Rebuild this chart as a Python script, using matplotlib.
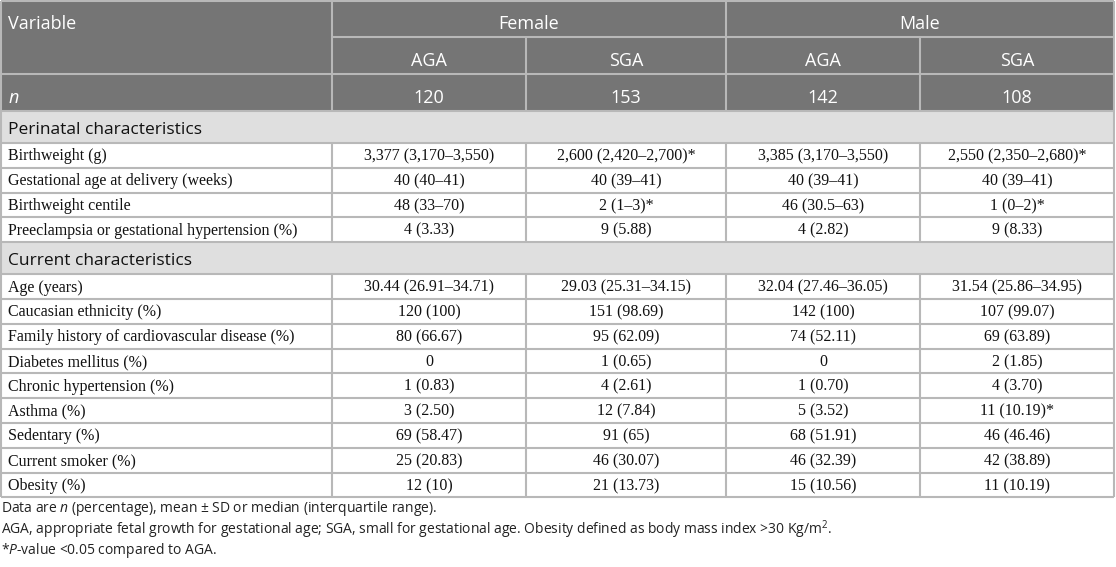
import matplotlib
matplotlib.use("Agg")
import matplotlib.pyplot as plt
from matplotlib.patches import Rectangle

# ---- data ----
sexes = ["Female", "Male"]
groups = ["AGA", "SGA"]
group_n = ["120", "153", "142", "108"]

perinatal_vars = ["Birthweight (g)", "Gestational age at delivery (weeks)",
                  "Birthweight centile", "Preeclampsia or gestational hypertension (%)"]
perinatal_female_aga = ["3,377 (3,170–3,550)", "40 (40–41)", "48 (33–70)", "4 (3.33)"]
perinatal_female_sga = ["2,600 (2,420–2,700)*", "40 (39–41)", "2 (1–3)*", "9 (5.88)"]
perinatal_male_aga = ["3,385 (3,170–3,550)", "40 (39–41)", "46 (30.5–63)", "4 (2.82)"]
perinatal_male_sga = ["2,550 (2,350–2,680)*", "40 (39–41)", "1 (0–2)*", "9 (8.33)"]

current_vars = ["Age (years)", "Caucasian ethnicity (%)",
                "Family history of cardiovascular disease (%)", "Diabetes mellitus (%)",
                "Chronic hypertension (%)", "Asthma (%)", "Sedentary (%)",
                "Current smoker (%)", "Obesity (%)"]
current_female_aga = ["30.44 (26.91–34.71)", "120 (100)", "80 (66.67)", "0", "1 (0.83)",
                      "3 (2.50)", "69 (58.47)", "25 (20.83)", "12 (10)"]
current_female_sga = ["29.03 (25.31–34.15)", "151 (98.69)", "95 (62.09)", "1 (0.65)", "4 (2.61)",
                      "12 (7.84)", "91 (65)", "46 (30.07)", "21 (13.73)"]
current_male_aga = ["32.04 (27.46–36.05)", "142 (100)", "74 (52.11)", "0", "1 (0.70)",
                    "5 (3.52)", "68 (51.91)", "46 (32.39)", "15 (10.56)"]
current_male_sga = ["31.54 (25.86–34.95)", "107 (99.07)", "69 (63.89)", "2 (1.85)", "4 (3.70)",
                    "11 (10.19)*", "46 (46.46)", "42 (38.89)", "11 (10.19)"]

sections = [
    ("Perinatal characteristics", perinatal_vars,
     [perinatal_female_aga, perinatal_female_sga, perinatal_male_aga, perinatal_male_sga]),
    ("Current characteristics", current_vars,
     [current_female_aga, current_female_sga, current_male_aga, current_male_sga]),
]

notes = [
    r"Data are $\it{n}$ (percentage), mean ± SD or median (interquartile range).",
    r"AGA, appropriate fetal growth for gestational age; SGA, small for gestational age. "
    r"Obesity defined as body mass index >30 Kg/m$^{2}$.",
    r"*$\it{P}$-value <0.05 compared to AGA.",
]

# ---- layout (pixels) ----
W, H = 1116, 567
col_x = [1, 332, 526, 726, 920, 1114]
hdr_y = [1, 37, 74, 111]
sec_h = 32
row_h = 24.8

HDR_BG = "#757575"
SEC_BG = "#dfdfdf"
LINE = "#b8b8b8"
LW = 1.5
SANS = "Open Sans"
SERIF = "Liberation Serif"

plt.rcParams["mathtext.fontset"] = "custom"
plt.rcParams["mathtext.rm"] = SANS
plt.rcParams["mathtext.it"] = SANS + ":italic"

fig = plt.figure(figsize=(W / 100, H / 100), dpi=100)
ax = fig.add_axes([0, 0, 1, 1])
ax.set_xlim(0, W)
ax.set_ylim(H, 0)
ax.axis("off")

def hline(y, x0, x1):
    ax.plot([x0, x1], [y, y], color=LINE, lw=LW, solid_capstyle="butt")

def vline(x, y0, y1):
    ax.plot([x, x], [y0, y1], color=LINE, lw=LW, solid_capstyle="butt")

# header block
ax.add_patch(Rectangle((col_x[0], hdr_y[0]), col_x[-1] - col_x[0], hdr_y[-1] - hdr_y[0],
                       facecolor=HDR_BG, edgecolor="none"))
hline(hdr_y[0], col_x[0], col_x[-1])
hline(hdr_y[1], col_x[1], col_x[-1])
hline(hdr_y[2], col_x[0], col_x[-1])
hline(hdr_y[3], col_x[0], col_x[-1])
vline(col_x[0], hdr_y[0], hdr_y[3])
vline(col_x[1], hdr_y[0], hdr_y[3])
vline(col_x[3], hdr_y[0], hdr_y[3])
vline(col_x[5], hdr_y[0], hdr_y[3])
vline(col_x[2], hdr_y[1], hdr_y[3])
vline(col_x[4], hdr_y[1], hdr_y[3])

hdr_kw = dict(color="white", fontsize=13, family=SANS, va="center")
ax.text(8, 24, "Variable", ha="left", **hdr_kw)
for i, s in enumerate(sexes):
    ax.text((col_x[2 * i + 1] + col_x[2 * i + 3]) / 2, 24, s, ha="center", **hdr_kw)
for j in range(4):
    cx = (col_x[j + 1] + col_x[j + 2]) / 2
    ax.text(cx, 61, groups[j % 2], ha="center", **hdr_kw)
    ax.text(cx, 98, group_n[j], ha="center", **hdr_kw)
ax.text(8, 98, r"$\it{n}$", ha="left", **hdr_kw)

# body
y = hdr_y[3]
for title, labels, cols in sections:
    ax.add_patch(Rectangle((col_x[0], y), col_x[-1] - col_x[0], sec_h,
                           facecolor=SEC_BG, edgecolor="none"))
    vline(col_x[0], y, y + sec_h)
    vline(col_x[-1], y, y + sec_h)
    ax.text(8, y + sec_h / 2 + 3, title, ha="left", va="center",
            fontsize=12.5, family=SANS, color="#111111")
    y += sec_h
    hline(y, col_x[0], col_x[-1])
    for r, lab in enumerate(labels):
        yc = y + row_h / 2 + 1
        ax.text(8, yc, lab, ha="left", va="center", fontsize=11.5,
                family=SERIF, color="#111111")
        for j in range(4):
            ax.text((col_x[j + 1] + col_x[j + 2]) / 2, yc, cols[j][r],
                    ha="center", va="center", fontsize=11.5, family=SERIF, color="#111111")
        for x in col_x:
            vline(x, y, y + row_h)
        y += row_h
        hline(y, col_x[0], col_x[-1])

# footnotes
for k, note in enumerate(notes):
    ax.text(1, 509 + 20.5 * k, note, ha="left", va="center", fontsize=10,
            family=SANS, color="#222222")

fig.savefig("out.png", dpi=100)
